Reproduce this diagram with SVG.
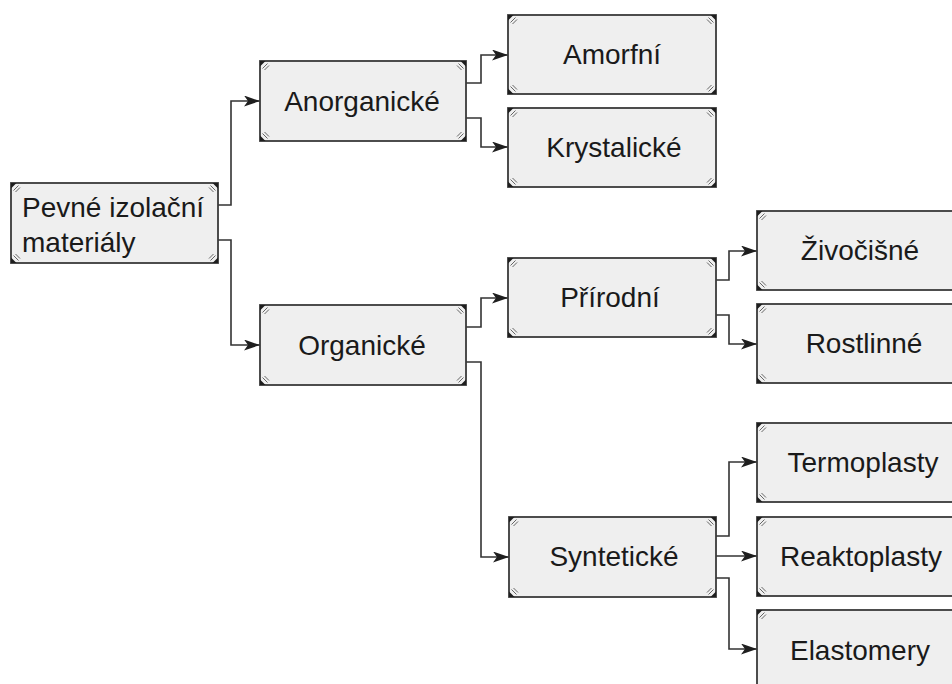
<svg xmlns="http://www.w3.org/2000/svg" xmlns:xlink="http://www.w3.org/1999/xlink" width="952" height="684" viewBox="0 0 952 684">
<style>
.box{fill:#efefef;stroke:#3a3a3a;stroke-width:1.8}
.t{font-family:"Liberation Sans",Arial,sans-serif;font-size:28px;fill:#1a1a1a;text-anchor:middle}
.tl{font-family:"Liberation Sans",Arial,sans-serif;font-size:28px;fill:#1a1a1a}
.con{fill:none;stroke:#333;stroke-width:1.6}
.orn line{stroke:#666;stroke-width:1}
</style>
<defs>
<marker id="ah" markerUnits="userSpaceOnUse" markerWidth="18" markerHeight="12" refX="16" refY="5.5" orient="auto">
<path d="M0,0 L16,5.5 L0,11 L4,5.5 z" fill="#1e1e1e"/>
</marker>
<g id="c" class="orn">
<path d="M0,0 H5.5 L0,5.5 z" fill="#1e1e1e"/>
<line x1="2.5" y1="7.5" x2="7.5" y2="2.5"/>
<line x1="4.5" y1="9" x2="9" y2="4.5"/>
</g>
</defs>
<rect width="952" height="684" fill="#ffffff"/>
<g id="connectors">
<path class="con" d="M218,205 H231 V101 H260" marker-end="url(#ah)"/>
<path class="con" d="M218,240 H231 V345 H260" marker-end="url(#ah)"/>
<path class="con" d="M466,83 H481 V55 H508" marker-end="url(#ah)"/>
<path class="con" d="M466,118 H481 V147 H508" marker-end="url(#ah)"/>
<path class="con" d="M466,327 H481 V298 H508" marker-end="url(#ah)"/>
<path class="con" d="M466,362 H481 V557 H509" marker-end="url(#ah)"/>
<path class="con" d="M716,280 H729 V251 H757" marker-end="url(#ah)"/>
<path class="con" d="M716,315 H729 V344 H757" marker-end="url(#ah)"/>
<path class="con" d="M716,536 H729 V462 H757" marker-end="url(#ah)"/>
<path class="con" d="M716,556 H757" marker-end="url(#ah)"/>
<path class="con" d="M716,578 H729 V649 H757" marker-end="url(#ah)"/>
</g>
<g id="root">
<rect class="box" x="11" y="183" width="207" height="80"/>
<use href="#c" transform="translate(11,183)"/>
<use href="#c" transform="translate(218,183) rotate(90)"/>
<use href="#c" transform="translate(218,263) rotate(180)"/>
<use href="#c" transform="translate(11,263) rotate(270)"/>
<text class="tl" x="22" y="217">Pevné izolační</text>
<text class="tl" x="22" y="252">materiály</text>
</g>
<g id="anorganicke">
<rect class="box" x="260" y="61" width="206" height="80"/>
<use href="#c" transform="translate(260,61)"/>
<use href="#c" transform="translate(466,61) rotate(90)"/>
<use href="#c" transform="translate(466,141) rotate(180)"/>
<use href="#c" transform="translate(260,141) rotate(270)"/>
<text class="t" x="362" y="111">Anorganické</text>
</g>
<g id="organicke">
<rect class="box" x="260" y="305" width="206" height="80"/>
<use href="#c" transform="translate(260,305)"/>
<use href="#c" transform="translate(466,305) rotate(90)"/>
<use href="#c" transform="translate(466,385) rotate(180)"/>
<use href="#c" transform="translate(260,385) rotate(270)"/>
<text class="t" x="362" y="355">Organické</text>
</g>
<g id="amorfni">
<rect class="box" x="508" y="15" width="208" height="79"/>
<use href="#c" transform="translate(508,15)"/>
<use href="#c" transform="translate(716,15) rotate(90)"/>
<use href="#c" transform="translate(716,94) rotate(180)"/>
<use href="#c" transform="translate(508,94) rotate(270)"/>
<text class="t" x="612" y="64">Amorfní</text>
</g>
<g id="krystalicke">
<rect class="box" x="508" y="108" width="208" height="79"/>
<use href="#c" transform="translate(508,108)"/>
<use href="#c" transform="translate(716,108) rotate(90)"/>
<use href="#c" transform="translate(716,187) rotate(180)"/>
<use href="#c" transform="translate(508,187) rotate(270)"/>
<text class="t" x="614" y="157">Krystalické</text>
</g>
<g id="prirodni">
<rect class="box" x="508" y="258" width="208" height="79"/>
<use href="#c" transform="translate(508,258)"/>
<use href="#c" transform="translate(716,258) rotate(90)"/>
<use href="#c" transform="translate(716,337) rotate(180)"/>
<use href="#c" transform="translate(508,337) rotate(270)"/>
<text class="t" x="610" y="307">Přírodní</text>
</g>
<g id="synteticke">
<rect class="box" x="509" y="517" width="207" height="80"/>
<use href="#c" transform="translate(509,517)"/>
<use href="#c" transform="translate(716,517) rotate(90)"/>
<use href="#c" transform="translate(716,597) rotate(180)"/>
<use href="#c" transform="translate(509,597) rotate(270)"/>
<text class="t" x="614" y="566">Syntetické</text>
</g>
<g id="zivocisne">
<rect class="box" x="757" y="211" width="208" height="79"/>
<use href="#c" transform="translate(757,211)"/>
<use href="#c" transform="translate(757,290) rotate(270)"/>
<text class="t" x="860" y="260">Živočišné</text>
</g>
<g id="rostlinne">
<rect class="box" x="757" y="304" width="208" height="79"/>
<use href="#c" transform="translate(757,304)"/>
<use href="#c" transform="translate(757,383) rotate(270)"/>
<text class="t" x="864" y="353">Rostlinné</text>
</g>
<g id="termoplasty">
<rect class="box" x="757" y="423" width="208" height="79"/>
<use href="#c" transform="translate(757,423)"/>
<use href="#c" transform="translate(757,502) rotate(270)"/>
<text class="t" x="863" y="472">Termoplasty</text>
</g>
<g id="reaktoplasty">
<rect class="box" x="757" y="517" width="208" height="79"/>
<use href="#c" transform="translate(757,517)"/>
<use href="#c" transform="translate(757,596) rotate(270)"/>
<text class="t" x="861" y="566">Reaktoplasty</text>
</g>
<g id="elastomery">
<rect class="box" x="757" y="610" width="208" height="79"/>
<use href="#c" transform="translate(757,610)"/>
<text class="t" x="860" y="660">Elastomery</text>
</g>
</svg>
